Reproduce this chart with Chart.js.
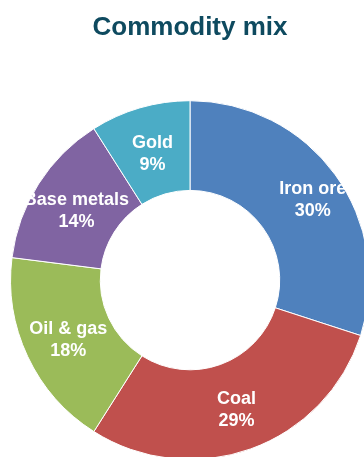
<!DOCTYPE html>
<html>
<head>
<meta charset="utf-8">
<script src="https://cdn.jsdelivr.net/npm/chart.js@4/dist/chart.umd.min.js"></script>
<style>
  html, body { margin: 0; padding: 0; overflow: hidden; background: #fff; }
  #wrap { width: 380px; height: 470px; }
</style>
</head>
<body>
<div id="wrap"><canvas id="mixChart" width="380" height="470"></canvas></div>
<script>
const categories = ["Iron ore", "Coal", "Oil & gas", "Base metals", "Gold"];
const shares = [30, 29, 18, 14, 9];
const sliceColors = ["#4f81bd", "#c0504d", "#9bbb59", "#8064a2", "#4bacc6"];
// small label shifts from the slice centre, in px
const labelShiftX = [14, 1, 0, 0, 0];
const labelShiftY = [-4, 0, 0, 0, 0];

// white two-line labels inside each slice
const sliceLabels = {
  id: "sliceLabels",
  afterDatasetsDraw(chart) {
    const ctx = chart.ctx;
    const meta = chart.getDatasetMeta(0);
    ctx.save();
    ctx.fillStyle = "#ffffff";
    ctx.font = "bold 18px 'Liberation Sans', Arial, sans-serif";
    ctx.textAlign = "center";
    ctx.textBaseline = "middle";
    meta.data.forEach((arc, i) => {
      const pos = arc.tooltipPosition();
      const x = pos.x + labelShiftX[i];
      const y = pos.y + 3 + labelShiftY[i];
      ctx.fillText(categories[i], x, y - 11);
      ctx.fillText(shares[i] + "%", x, y + 11);
    });
    ctx.restore();
  }
};

const ctx = document.getElementById("mixChart").getContext("2d");
new Chart(ctx, {
  type: "doughnut",
  data: {
    labels: categories,
    datasets: [{
      data: shares,
      backgroundColor: sliceColors,
      borderColor: "#ffffff",
      borderWidth: 1
    }]
  },
  options: {
    responsive: false,
    animation: false,
    cutout: "50%",
    layout: { padding: { left: 10, right: 10, bottom: 10 } },
    plugins: {
      legend: { display: false },
      tooltip: { enabled: false },
      title: {
        display: true,
        text: "Commodity mix",
        color: "#0e4a5f",
        font: { family: "'Liberation Sans', Arial, sans-serif", size: 26, weight: "bold" },
        padding: { top: 12, bottom: 57 }
      }
    }
  },
  plugins: [sliceLabels]
});
</script>
</body>
</html>
